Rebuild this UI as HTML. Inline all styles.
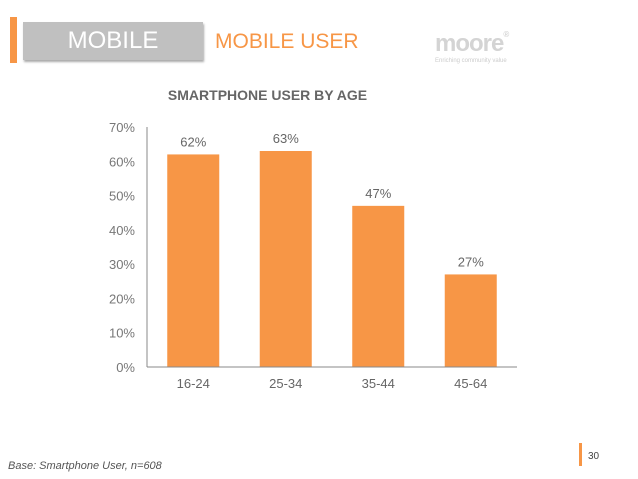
<!DOCTYPE html>
<html><head><meta charset="utf-8"><style>
body{margin:0;width:638px;height:479px;background:#fff;font-family:"Liberation Sans",sans-serif;position:relative;overflow:hidden}
.a{position:absolute}
</style></head><body>
<div class="a" style="left:10px;top:17px;width:7px;height:46px;background:#f79646"></div>
<div class="a" style="left:23px;top:22px;width:180px;height:38px;background:#c0c0c0;box-shadow:1px 2px 2px #aaa;color:#fff;font-size:24px;line-height:38px;text-align:center">MOBILE</div>
<div class="a" style="left:215px;top:30px;color:#f79646;font-size:21px">MOBILE USER</div>
<div class="a" style="left:435px;top:30px;color:#d4d4d4;font-size:24px;font-weight:bold;letter-spacing:-1px">moore<span style="font-size:8px;vertical-align:top">®</span><div style="font-size:6px;font-weight:normal;letter-spacing:0;color:#ccc">Enriching community value</div></div>
<div class="a" style="left:0;width:535px;top:87px;text-align:center;color:#666;font-size:14px;font-weight:bold">SMARTPHONE USER BY AGE</div>
<svg class="a" style="left:0;top:0" width="638" height="479" id="chart"></svg>
<div class="a" style="left:8px;top:460px;color:#555;font-size:11px;font-style:italic">Base: Smartphone User, n=608</div>
<div class="a" style="left:579px;top:443px;width:3px;height:23px;background:#f79646"></div>
<div class="a" style="left:588px;top:451px;color:#444;font-size:10px">30</div>
<script>
const categories=["16-24","25-34","35-44","45-64"];
const values=[62,63,47,27];
const ticks=[0,10,20,30,40,50,60,70];
const svg=document.getElementById('chart');
const NS='http://www.w3.org/2000/svg';
const x0=147,x1=517,y0=367,yTop=127,max=70;
const y=v=>y0-(v/max)*(y0-yTop);
const band=(x1-x0)/categories.length;
function mk(t,a,txt){const e=document.createElementNS(NS,t);for(const k in a)e.setAttribute(k,a[k]);if(txt!==undefined)e.textContent=txt;svg.appendChild(e);return e;}
ticks.forEach(t=>{const e=mk('text',{x:135,y:y(t)+5,'text-anchor':'end','font-size':13,fill:'#777','font-family':'Liberation Sans'},t+'%');

});
categories.forEach((c,i)=>{const cx=x0+band*(i+0.5),v=values[i];
const r=mk('rect',{x:cx-26,y:y(v),width:52,height:y0-y(v),fill:'#f79646'});


const l=mk('text',{x:cx,y:y(v)-8,'text-anchor':'middle','font-size':13,fill:'#666','font-family':'Liberation Sans'},v+'%');


const xl=mk('text',{x:cx,y:388,'text-anchor':'middle','font-size':13,fill:'#666','font-family':'Liberation Sans'},c);

});
const ya=mk('line',{x1:x0,y1:yTop,x2:x0,y2:y0,stroke:'#888','stroke-width':1});


const xa=mk('line',{x1:x0,y1:y0,x2:x1,y2:y0,stroke:'#888','stroke-width':1});


</script>
</body></html>
